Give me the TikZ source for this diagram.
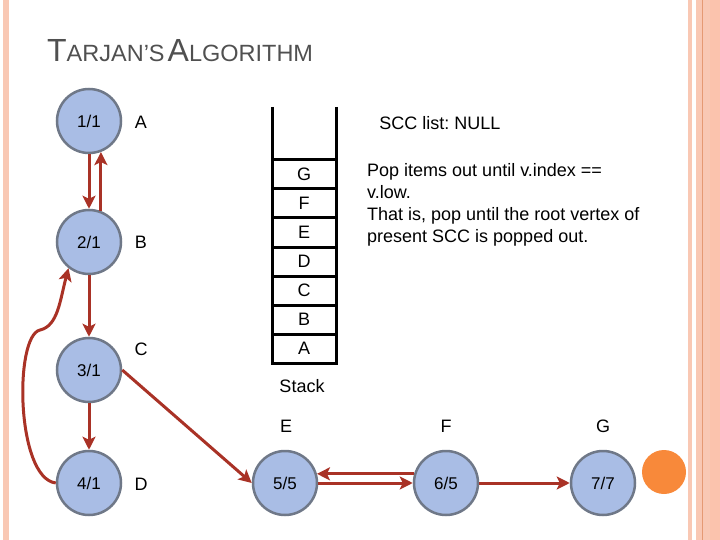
\documentclass[tikz,border=0pt]{standalone}
\usepackage{fontspec}
\setmainfont{Liberation Sans}
\usetikzlibrary{arrows.meta}
\frenchspacing
\definecolor{stripe}{HTML}{F9C8B4}
\definecolor{stripeB}{HTML}{FBC3AD}
\definecolor{stripeLine}{HTML}{E59A74}
\definecolor{vfill}{HTML}{A9BDE5}
\definecolor{vgray}{HTML}{6F7888}
\definecolor{arrred}{HTML}{A93226}
\definecolor{titlegray}{HTML}{505050}
\definecolor{dotorange}{HTML}{F8893A}
\begin{document}
\begin{tikzpicture}[x=1pt,y=-1pt,
  vtx/.style={circle,fill=vfill,draw=vgray,line width=2.5pt,minimum size=64pt,inner sep=0pt,font=\fontsize{17}{17}\selectfont},
  lbl/.style={inner sep=0pt,font=\fontsize{18}{18}\selectfont},
  cell/.style={draw=black,line width=3pt,minimum width=64pt,minimum height=29pt,inner sep=0pt,outer sep=0pt,font=\fontsize{18}{18}\selectfont},
  arr/.style={draw=arrred,line width=3pt,-{Stealth[length=13pt,width=13pt,inset=3pt]}},
  txt/.style={inner sep=0pt,font=\fontsize{18}{22}\selectfont}]
\useasboundingbox (0,0) rectangle (720,540);
% borders
\fill[stripe] (3,0) rectangle (9,540);
\fill[stripe] (688,0) rectangle (692,540);
\fill[stripe] (696,0) rectangle (720,540);
\fill[stripeB] (710,0) rectangle (720,540);
\draw[stripeLine,line width=1pt] (702.5,0) -- (702.5,540);
% title
\node[anchor=base west,inner sep=0pt,text=titlegray] (title) at (47,62)
  {\fontsize{32}{32}\selectfont T\fontsize{23.5}{23.5}\selectfont ARJAN'S\hspace{3pt}\fontsize{32}{32}\selectfont A\fontsize{23.5}{23.5}\selectfont LGORITHM};
% vertices
\node[vtx] (v1) at (89,121) {1/1};
\node[vtx] (v2) at (89,242) {2/1};
\node[vtx] (v3) at (89,370) {3/1};
\node[vtx] (v4) at (89,483) {4/1};
\node[vtx] (v5) at (285,483) {5/5};
\node[vtx] (v6) at (446,483) {6/5};
\node[vtx] (v7) at (603,483) {7/7};
\fill[dotorange] (664,472) circle (22);
% vertex labels
\node[lbl] (la) at (141,122) {A};
\node[lbl] (lb) at (141,242) {B};
\node[lbl] (lc) at (141,349) {C};
\node[lbl] (ld) at (141,484) {D};
\node[lbl] (le) at (286,426) {E};
\node[lbl] (lf) at (446,426) {F};
\node[lbl] (lg) at (603,426) {G};
% edges
\draw[arr] (v1.south) -- (v2.north);
\draw[arr] (v2.69) -- (v1.291);
\draw[arr] (v2.south) -- (v3.north);
\draw[arr] (v3.south) -- (v4.north);
\draw[arr] (v4.west) .. controls (16,478) and (14,336) .. (40,330) .. controls (58,326) and (60,300) .. (v2.232);
\draw[arr] (v3.east) -- (v5.west);
\draw[arr] (v6.164) -- (v5.16);
\draw[arr] (v5.east) -- (v6.west);
\draw[arr] (v6.east) -- (v7.west);
% stack
\node[cell] (sG) at (304,174.5) {G};
\node[cell] (sF) at (304,203.5) {F};
\node[cell] (sE) at (304,232.5) {E};
\node[cell] (sD) at (304,261.5) {D};
\node[cell] (sC) at (304,290.5) {C};
\node[cell] (sB) at (304,319.5) {B};
\node[cell] (sA) at (304,348.5) {A};
\coordinate (stl) at (272,107);
\coordinate (str) at (336,107);
\draw[line width=3pt] (stl) -- (sG.north west);
\draw[line width=3pt] (str) -- (sG.north east);
\node[lbl] (stack) at (302,386) {Stack};
% texts
\node[lbl] (scc) at (440,123) {SCC list: NULL};
\node[txt,anchor=north west,align=left] (expl) at (367,163)
  {Pop items out until v.index ==\\v.low.\\That is, pop until the root vertex of\\present SCC is popped out.};
\end{tikzpicture}
\end{document}
